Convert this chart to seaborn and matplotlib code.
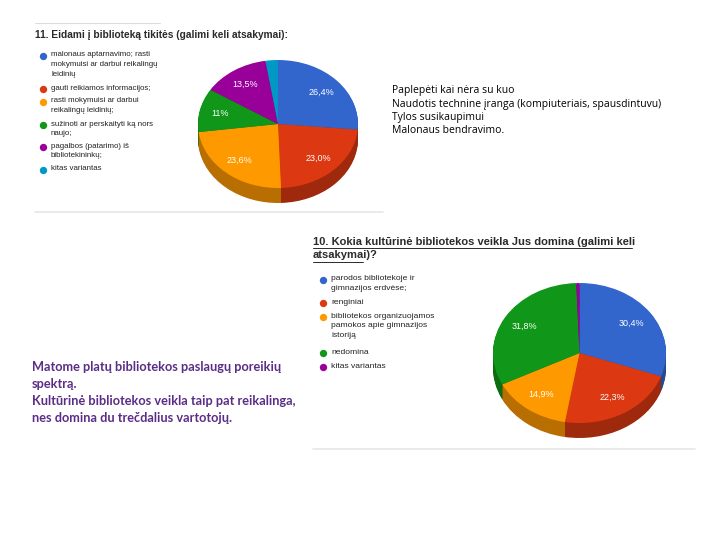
import matplotlib.pyplot as plt
import matplotlib.colors as mcolors
import seaborn as sns

# question 11 (top-left chart)
q11_title = "11. Eidami į biblioteką tikitės (galimi keli atsakymai):"
q11_legend = ["malonaus aptarnavimo; rasti\nmokymuisi ar darbui reikalingų\nleidinių",
              "gauti reikiamos informacijos;",
              "rasti mokymuisi ar darbui\nreikalingų leidinių;",
              "sužinoti ar perskaityti ką nors\nnaujo;",
              "pagalbos (patarimo) iš\nbibliotekininkų;",
              "kitas variantas"]
q11_values = [26.4, 23.0, 23.6, 11.0, 13.5, 2.5]
q11_pct = ["26,4%", "23,0%", "23,6%", "11%", "13,5%", ""]

# question 10 (bottom-right chart)
q10_title = ["10. Kokia kultūrinė bibliotekos veikla Jus domina (galimi keli",
             "atsakymai)?"]
q10_legend = ["parodos bibliotekoje ir\ngimnazijos erdvėse;",
              "renginiai",
              "bibliotekos organizuojamos\npamokos apie gimnazijos\nistoriją",
              "nedomina",
              "kitas variantas"]
q10_values = [30.4, 22.3, 14.9, 31.8, 0.6]
q10_pct = ["30,4%", "22,3%", "14,9%", "31,8%", ""]

right_notes = ["Paplepėti kai nėra su kuo",
               "Naudotis technine įranga (kompiuteriais, spausdintuvu)",
               "Tylos susikaupimui",
               "Malonaus bendravimo."]
summary = ["Matome platų bibliotekos paslaugų poreikių",
           "spektrą.",
           "Kultūrinė bibliotekos veikla taip pat reikalinga,",
           "nes domina du trečdalius vartotojų."]

google = sns.color_palette(["#3366cc", "#dc3912", "#ff9900", "#109618", "#990099", "#0099c6"])

sns.set_theme(style="white")
plt.rcParams['font.family'] = ['Liberation Sans', 'DejaVu Sans']

W, H = 720, 540
fig = plt.figure(figsize=(W / 100, H / 100), dpi=100)
base = fig.add_axes([0, 0, 1, 1])
base.set_xlim(0, W)
base.set_ylim(H, 0)
base.axis('off')


def darken(c, f=0.72):
    r, g, b = mcolors.to_rgb(c)
    return (r * f, g * f, b * f)


def draw_pie(box, values, pct, depth=15):
    left, top, right, bottom = box
    ax = fig.add_axes([left / W, 1 - bottom / H, (right - left) / W, (bottom - top) / H])
    ry = (bottom - top - depth) / 2
    colors = google[:len(values)]
    side = [darken(c) for c in colors]
    for k in range(depth, 0, -1):
        ax.pie(values, colors=side, startangle=90, counterclock=False,
               center=(0, -k / ry), wedgeprops=dict(linewidth=0))
    _, _, autotexts = ax.pie(values, colors=colors, startangle=90, counterclock=False,
                             autopct='%1.1f%%', pctdistance=0.74,
                             wedgeprops=dict(linewidth=0),
                             textprops=dict(color='white', fontsize=6.5))
    for t, s in zip(autotexts, pct):
        t.set_text(s)
    ax.set_aspect('auto')
    ax.set_xlim(-1, 1)
    ax.set_ylim(-1 - depth / ry, 1)
    ax.axis('off')


def draw_legend(x, ys, labels, colors, size):
    for y, lab, c in zip(ys, labels, colors):
        base.scatter([x], [y], s=28, color=c, linewidths=0)
        base.text(x + 8, y - 4.5, lab, fontsize=size, color='#222222', va='top',
                  linespacing=1.55)


# chart 11
base.plot([35, 160], [23, 23], color='#dddddd', lw=0.8)
base.plot([35, 383], [212, 212], color='#e6e6e6', lw=1.2)
base.text(35, 35, q11_title, fontsize=7.3, fontweight='bold', color='#2a2a2a', va='center')
draw_legend(43, [56, 89, 102, 125, 147, 170], q11_legend, google, 5.7)
draw_pie((198, 60, 358, 203), q11_values, q11_pct)

# chart 10
base.plot([313, 695], [449, 449], color='#e6e6e6', lw=1.2)
for y, line in zip([242, 255.5], q10_title):
    t = base.text(313, y, line, fontsize=8.0, fontweight='bold', color='#2a2a2a', va='center')
base.plot([313, 632], [248, 248], color='#2a2a2a', lw=0.7)
base.plot([313, 363], [261.5, 261.5], color='#2a2a2a', lw=0.7)
draw_legend(323, [280, 303, 317, 353, 367], q10_legend, google, 6.1)
draw_pie((493, 283, 666, 438), q10_values, q10_pct)

# free text
for i, line in enumerate(right_notes):
    base.text(392, 91 + i * 13.3, line, fontsize=7.5, color='black', va='center',
              family=['Open Sans', 'DejaVu Sans'])
for i, line in enumerate(summary):
    base.text(32, 367 + i * 17, line, fontsize=9.2, color='#5b2d86', va='center',
              fontweight='bold', family=['Lato', 'DejaVu Sans'])

fig.savefig('out.png', dpi=100)
